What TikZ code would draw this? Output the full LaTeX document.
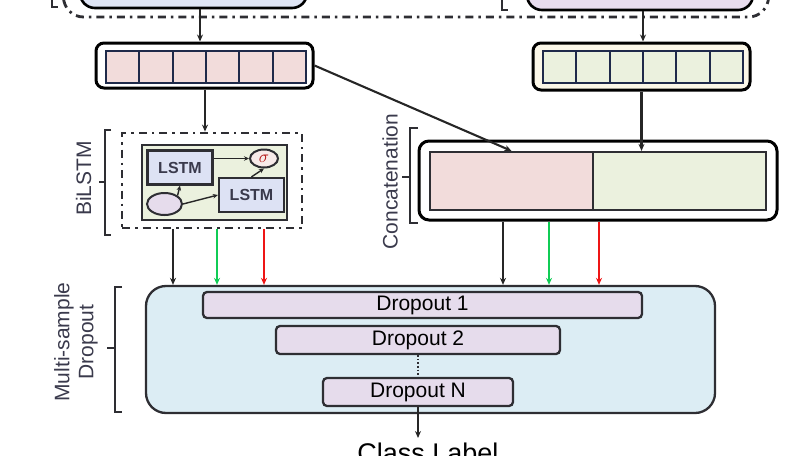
\documentclass[tikz,border=0pt]{standalone}
\usepackage{fontspec}
\setmainfont{Liberation Sans}
\usetikzlibrary{arrows.meta,calc,shapes.geometric}
\definecolor{topblue}{HTML}{DFE5F5}
\definecolor{toppurple}{HTML}{E8DCEE}
\definecolor{pinkc}{HTML}{F2DCDB}
\definecolor{greenc}{HTML}{EBF1DE}
\definecolor{creamc}{HTML}{FBF7E8}
\definecolor{lstmc}{HTML}{DDE2F4}
\definecolor{dropbg}{HTML}{DCEDF4}
\definecolor{dropc}{HTML}{E6DCEC}
\definecolor{labelc}{HTML}{3A3A4C}
\definecolor{navyc}{HTML}{1F2A4A}
\definecolor{edgec}{HTML}{2E2E33}
\definecolor{greenarr}{HTML}{10CC55}
\definecolor{redarr}{HTML}{EE1515}
\tikzset{
  arr/.style={-{Stealth[length=7pt,width=6pt]}, line width=2.1pt, draw=black!85},
  sarr/.style={-{Stealth[length=5pt,width=4.5pt]}, line width=1.4pt, draw=black!85},
  dashdot/.style={draw=edgec, line width=2.8pt, dash pattern=on 8pt off 5pt on 2.5pt off 5pt},
  cellbox/.style={draw=navyc, line width=2pt, minimum width=33.33pt, minimum height=32pt, inner sep=0},
  rowbox/.style={draw=black, line width=3pt, rounded corners=8pt, inner sep=0},
  brk/.style={draw=edgec, line width=1.9pt},
  lbl/.style={text=labelc, font=\fontsize{21}{24}\selectfont, rotate=90, inner sep=0, align=center},
  lstmbox/.style={draw=edgec, line width=2.2pt, fill=lstmc, minimum width=65pt, minimum height=34pt, inner sep=0, font=\bfseries\fontsize{16}{19}\selectfont, text=labelc},
  dropbox/.style={draw=edgec, line width=2.3pt, fill=dropc, rounded corners=4pt, inner sep=0, font=\fontsize{21}{24}\selectfont},
}
\begin{document}
\begin{tikzpicture}[x=1pt,y=-1pt]
\useasboundingbox (0,0) rectangle (808,455);
\clip (0,0) rectangle (808,455);

% top (cut off) part
\node[draw=black, line width=2.6pt, fill=topblue, rounded corners=15pt, minimum width=227pt, minimum height=60pt, inner sep=0] (topL) at (193.5,-22) {};
\node[draw=black, line width=2.6pt, fill=toppurple, rounded corners=15pt, minimum width=226pt, minimum height=60pt, inner sep=0] (topR) at (640,-20) {};
\node[dashdot, rounded corners=20pt, minimum width=705pt, minimum height=140pt, inner sep=0] (topgrp) at (416,-53) {};
\draw[brk] (58,-40) -- (52,-40) -- (52,7) -- (58,7);
\draw[brk] (508,-40) -- (502,-40) -- (502,10) -- (508,10);

% rows of cells
\node[rowbox, fill=white, minimum width=217pt, minimum height=45pt] (rowL) at (204.5,65.5) {};
\node[rowbox, fill=creamc, minimum width=217pt, minimum height=47pt] (rowR) at (641.5,66.5) {};
\foreach \i in {0,...,5}{
  \node[cellbox, fill=pinkc] (cL\i) at ({106+16.67+33.33*\i},67) {};
  \node[cellbox, fill=greenc] (cR\i) at ({543+16.67+33.33*\i},67) {};
}
\coordinate (aL) at (200,0);
\coordinate (aR) at (643,0);
\coordinate (aB) at (205,0);
\draw[arr] (aL |- topL.south) -- (aL |- rowL.north);
\draw[arr] (aR |- topR.south) -- (aR |- rowR.north);

% BiLSTM
\node[dashdot, minimum width=180pt, minimum height=95pt, inner sep=0] (bil) at (212,180.5) {};
\node[draw=edgec, line width=2.2pt, fill=greenc, minimum width=145pt, minimum height=75pt, inner sep=0] (bilin) at (214.5,182.5) {};
\node[lstmbox] (l1) at (180,167.5) {LSTM};
\node[lstmbox] (l2) at (251.5,195) {LSTM};
\node[ellipse, draw=edgec, line width=2pt, fill=pinkc!60, minimum width=28pt, minimum height=18pt, inner sep=0, font=\fontsize{16}{16}\selectfont, text=redarr!75!black] (sg) at (264,158.5) {$\sigma$};
\node[ellipse, draw=edgec, line width=2pt, fill=dropc, minimum width=35pt, minimum height=22pt, inner sep=0] (el) at (164.5,204) {};
\draw[sarr] (l1.east |- sg.west) -- (sg.west);
\draw[sarr] (l2.north) -- (sg.south);
\draw[sarr] (el.north east) -- (l1.south);
\draw[sarr] (el.east) -- (l2.west);
\draw[arr] (aB |- rowL.south) -- (aB |- bil.north);
\draw[brk] (111,130) -- (105,130) -- (105,235) -- (111,235);
\draw[brk] (105,182) -- (99,182);
\node[lbl] (lblBi) at (83.5,178.5) {BiLSTM};

% Concatenation
\node[draw=black, line width=3pt, rounded corners=10pt, minimum width=358pt, minimum height=79pt, inner sep=0, fill=white] (cat) at (598,180.5) {};
\node[draw=edgec, line width=2.2pt, fill=pinkc, minimum width=163pt, minimum height=58pt, inner sep=0] (cp) at (511.5,181) {};
\node[draw=edgec, line width=2.2pt, fill=greenc, minimum width=173pt, minimum height=58pt, inner sep=0] (cg) at (679.5,181) {};
\draw[arr] (rowL.east) -- (cp.north);
\draw[arr] (rowR.south) -- (rowR.south |- cg.north);
\draw[brk] (418,128) -- (410,128) -- (410,223) -- (418,223);
\draw[brk] (410,177) -- (402,177);
\node[lbl] (lblCat) at (390,181.5) {Concatenation};

% Multi-sample dropout
\node[draw=edgec, line width=2.3pt, fill=dropbg, rounded corners=20pt, minimum width=569pt, minimum height=127pt, inner sep=0] (drop) at (430.5,349.5) {};
\node[dropbox, minimum width=439pt, minimum height=26pt] (d1) at (422.5,305) {Dropout 1};
\node[dropbox, minimum width=284pt, minimum height=28pt] (d2) at (418,340) {Dropout 2};
\node[dropbox, minimum width=190pt, minimum height=28pt] (dN) at (418,392) {Dropout N};
\draw[line width=1.6pt, draw=edgec, dotted] (d2.south) -- (dN.north);
\draw[brk] (122,287) -- (115,287) -- (115,412) -- (122,412);
\draw[brk] (115,348) -- (107,348);
\node[lbl] (lblMS) at (76,342) {Multi-sample\\Dropout};

% connectors into dropout block
\coordinate (b1) at (173,0);
\coordinate (b2) at (217,0);
\coordinate (b3) at (264,0);
\coordinate (c1) at (503,0);
\coordinate (c2) at (549,0);
\coordinate (c3) at (599,0);
\draw[arr] (bil.south -| b1) -- (drop.north -| b1);
\draw[arr, draw=greenarr] (bil.south -| b2) -- (drop.north -| b2);
\draw[arr, draw=redarr] (bil.south -| b3) -- (drop.north -| b3);
\draw[arr] (cat.south -| c1) -- (drop.north -| c1);
\draw[arr, draw=greenarr] (cat.south -| c2) -- (drop.north -| c2);
\draw[arr, draw=redarr] (cat.south -| c3) -- (drop.north -| c3);

% output
\node[anchor=north, inner sep=0, font=\fontsize{27}{30}\selectfont] (cls) at (428,443) {Class Label};
\draw[arr, shorten >=5pt] (dN.south) -- (dN.south |- cls.north);
\end{tikzpicture}
\end{document}
